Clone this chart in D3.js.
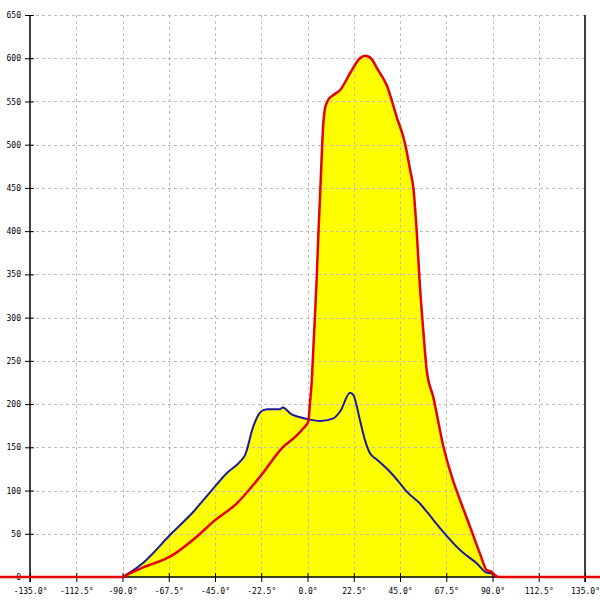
<!DOCTYPE html>
<html>
<head>
<meta charset="utf-8">
<script src="https://cdn.jsdelivr.net/npm/d3@7"></script>
<style>
html,body{margin:0;padding:0;background:#fff;}
svg{display:block;}
</style>
</head>
<body>
<svg id="chart" width="600" height="600"></svg>
<script>
// Data
const xTicks = [-135, -112.5, -90, -67.5, -45, -22.5, 0, 22.5, 45, 67.5, 90, 112.5, 135];
const yTicks = [0, 50, 100, 150, 200, 250, 300, 350, 400, 450, 500, 550, 600, 650];

const blueAngles = [-90, -86.5, -79.9, -66.9, -55.5, -45.8, -39.3, -32.8, -30.4, -26.4, -23.5, -21.5, -19.1, -13.4, -12.1, -7.7, -3.6, 0.4, 6.1, 12.6, 16, 20.7, 22.3, 25.5, 28, 30.4, 33.7, 40.1, 45, 48.3, 54.7, 58, 67.7, 74.2, 82.3, 87.2, 89.6, 91.2];
const blueValues = [0, 5, 16.5, 48.6, 75.5, 102.6, 120, 133.4, 141, 173.9, 189, 193, 194, 194, 196, 188, 184.7, 182.4, 180.4, 183.5, 192, 213.2, 210.5, 181.6, 158, 143, 136, 121.8, 108.4, 98.7, 85, 75.5, 47.6, 31.2, 15.8, 5, 4, 0];

const redAngles = [-180, -90, -86.4, -79.9, -66.9, -53.9, -45.8, -34.4, -23.1, -11.8, -6, -2, 0.4, 1.2, 2.0, 2.8, 3.6, 4.5, 5.3, 6.1, 6.9, 7.7, 8.5, 9.3, 10.1, 12.6, 15.8, 20.7, 25.5, 28, 30.4, 34.4, 38.5, 43.4, 47.4, 49.9, 51.5, 53.1, 54.7, 56.3, 58, 61.2, 66.1, 70.2, 74.2, 79.1, 83.9, 87.2, 89.6, 91.2, 92.8, 180];
const redValues = [0, 0, 4.2, 11.2, 23.5, 46.6, 64, 85.2, 116, 150.5, 162, 172, 180, 201, 224, 262, 301, 347, 397, 440, 486, 525, 542, 548, 552, 557.5, 563, 582.6, 600, 603, 601, 586, 569, 532, 502, 471, 450, 401, 336, 286, 239, 208, 151, 116, 89, 58, 27, 8, 6, 2, 0, 0];

const blueData = blueAngles.map((a, i) => ({x: a, y: blueValues[i]}));
const redData = redAngles.map((a, i) => ({x: a, y: redValues[i]}));

const svg = d3.select("#chart");
const x = d3.scaleLinear().domain([-135, 135]).range([30, 585]);
const y = d3.scaleLinear().domain([0, 650]).range([577, 15]);

const font = "'DejaVu Sans Mono', monospace";

// Fills
const area = d3.area().x(d => x(d.x)).y0(y(0)).y1(d => y(d.y)).curve(d3.curveMonotoneX);
svg.append("path").datum(blueData).attr("d", area).attr("fill", "#ffff00");
svg.append("path").datum(redData).attr("d", area).attr("fill", "#ffff00");

// Grid
const grid = svg.append("g").attr("stroke", "#bdbdbd").attr("stroke-width", 1).attr("stroke-dasharray", "3,3");
grid.selectAll("line.v").data(xTicks.filter(t => t !== -135 && t !== 135)).enter().append("line")
  .attr("x1", d => Math.round(x(d)) + 0.5).attr("x2", d => Math.round(x(d)) + 0.5)
  .attr("y1", y(650)).attr("y2", y(0));
grid.selectAll("line.h").data(yTicks.filter(t => t !== 0)).enter().append("line")
  .attr("x1", x(-135)).attr("x2", x(135))
  .attr("y1", d => Math.round(y(d)) + 0.5).attr("y2", d => Math.round(y(d)) + 0.5);

// Axes
const xAxis = d3.axisBottom(x).tickValues(xTicks).tickSize(5).tickPadding(8)
  .tickFormat(d => d.toFixed(1) + "\u00b0");
const gx = svg.append("g").attr("transform", `translate(0,${y(0)})`).call(xAxis);
gx.select(".domain").remove();
gx.selectAll(".tick line").attr("y1", -4).attr("stroke", "#000");
gx.selectAll(".tick text").attr("font-family", font).attr("font-size", "8px").attr("fill", "#000")
  .attr("y", 11).attr("dy", "0.71em");

const yAxis = d3.axisLeft(y).tickValues(yTicks).tickSize(5).tickPadding(8).tickFormat(d3.format("d"));
const gy = svg.append("g").attr("transform", `translate(${x(-135)},0)`).call(yAxis);
gy.select(".domain").remove();
gy.selectAll(".tick line").attr("x1", 4).attr("stroke", "#000");
gy.selectAll(".tick text").attr("font-family", font).attr("font-size", "8px").attr("fill", "#000").attr("x", -9);

// Axis lines
svg.append("line").attr("x1", x(-135)).attr("x2", x(-135)).attr("y1", y(650)).attr("y2", y(0) + 5).attr("stroke", "#000").attr("stroke-width", 1.5);
svg.append("line").attr("x1", x(135)).attr("x2", x(135)).attr("y1", y(650)).attr("y2", y(0) + 5).attr("stroke", "#000").attr("stroke-width", 1.5);
svg.append("line").attr("x1", x(-135)).attr("x2", x(135)).attr("y1", y(0)).attr("y2", y(0)).attr("stroke", "#000").attr("stroke-width", 1.5);

// Lines
const line = d3.line().x(d => x(d.x)).y(d => y(d.y)).curve(d3.curveMonotoneX);
svg.append("path").datum(blueData).attr("d", line).attr("fill", "none").attr("stroke", "#1a1aa0").attr("stroke-width", 2);
svg.append("path").datum(redData).attr("d", line).attr("fill", "none").attr("stroke", "#e60000").attr("stroke-width", 2.5);
</script>
</body>
</html>
